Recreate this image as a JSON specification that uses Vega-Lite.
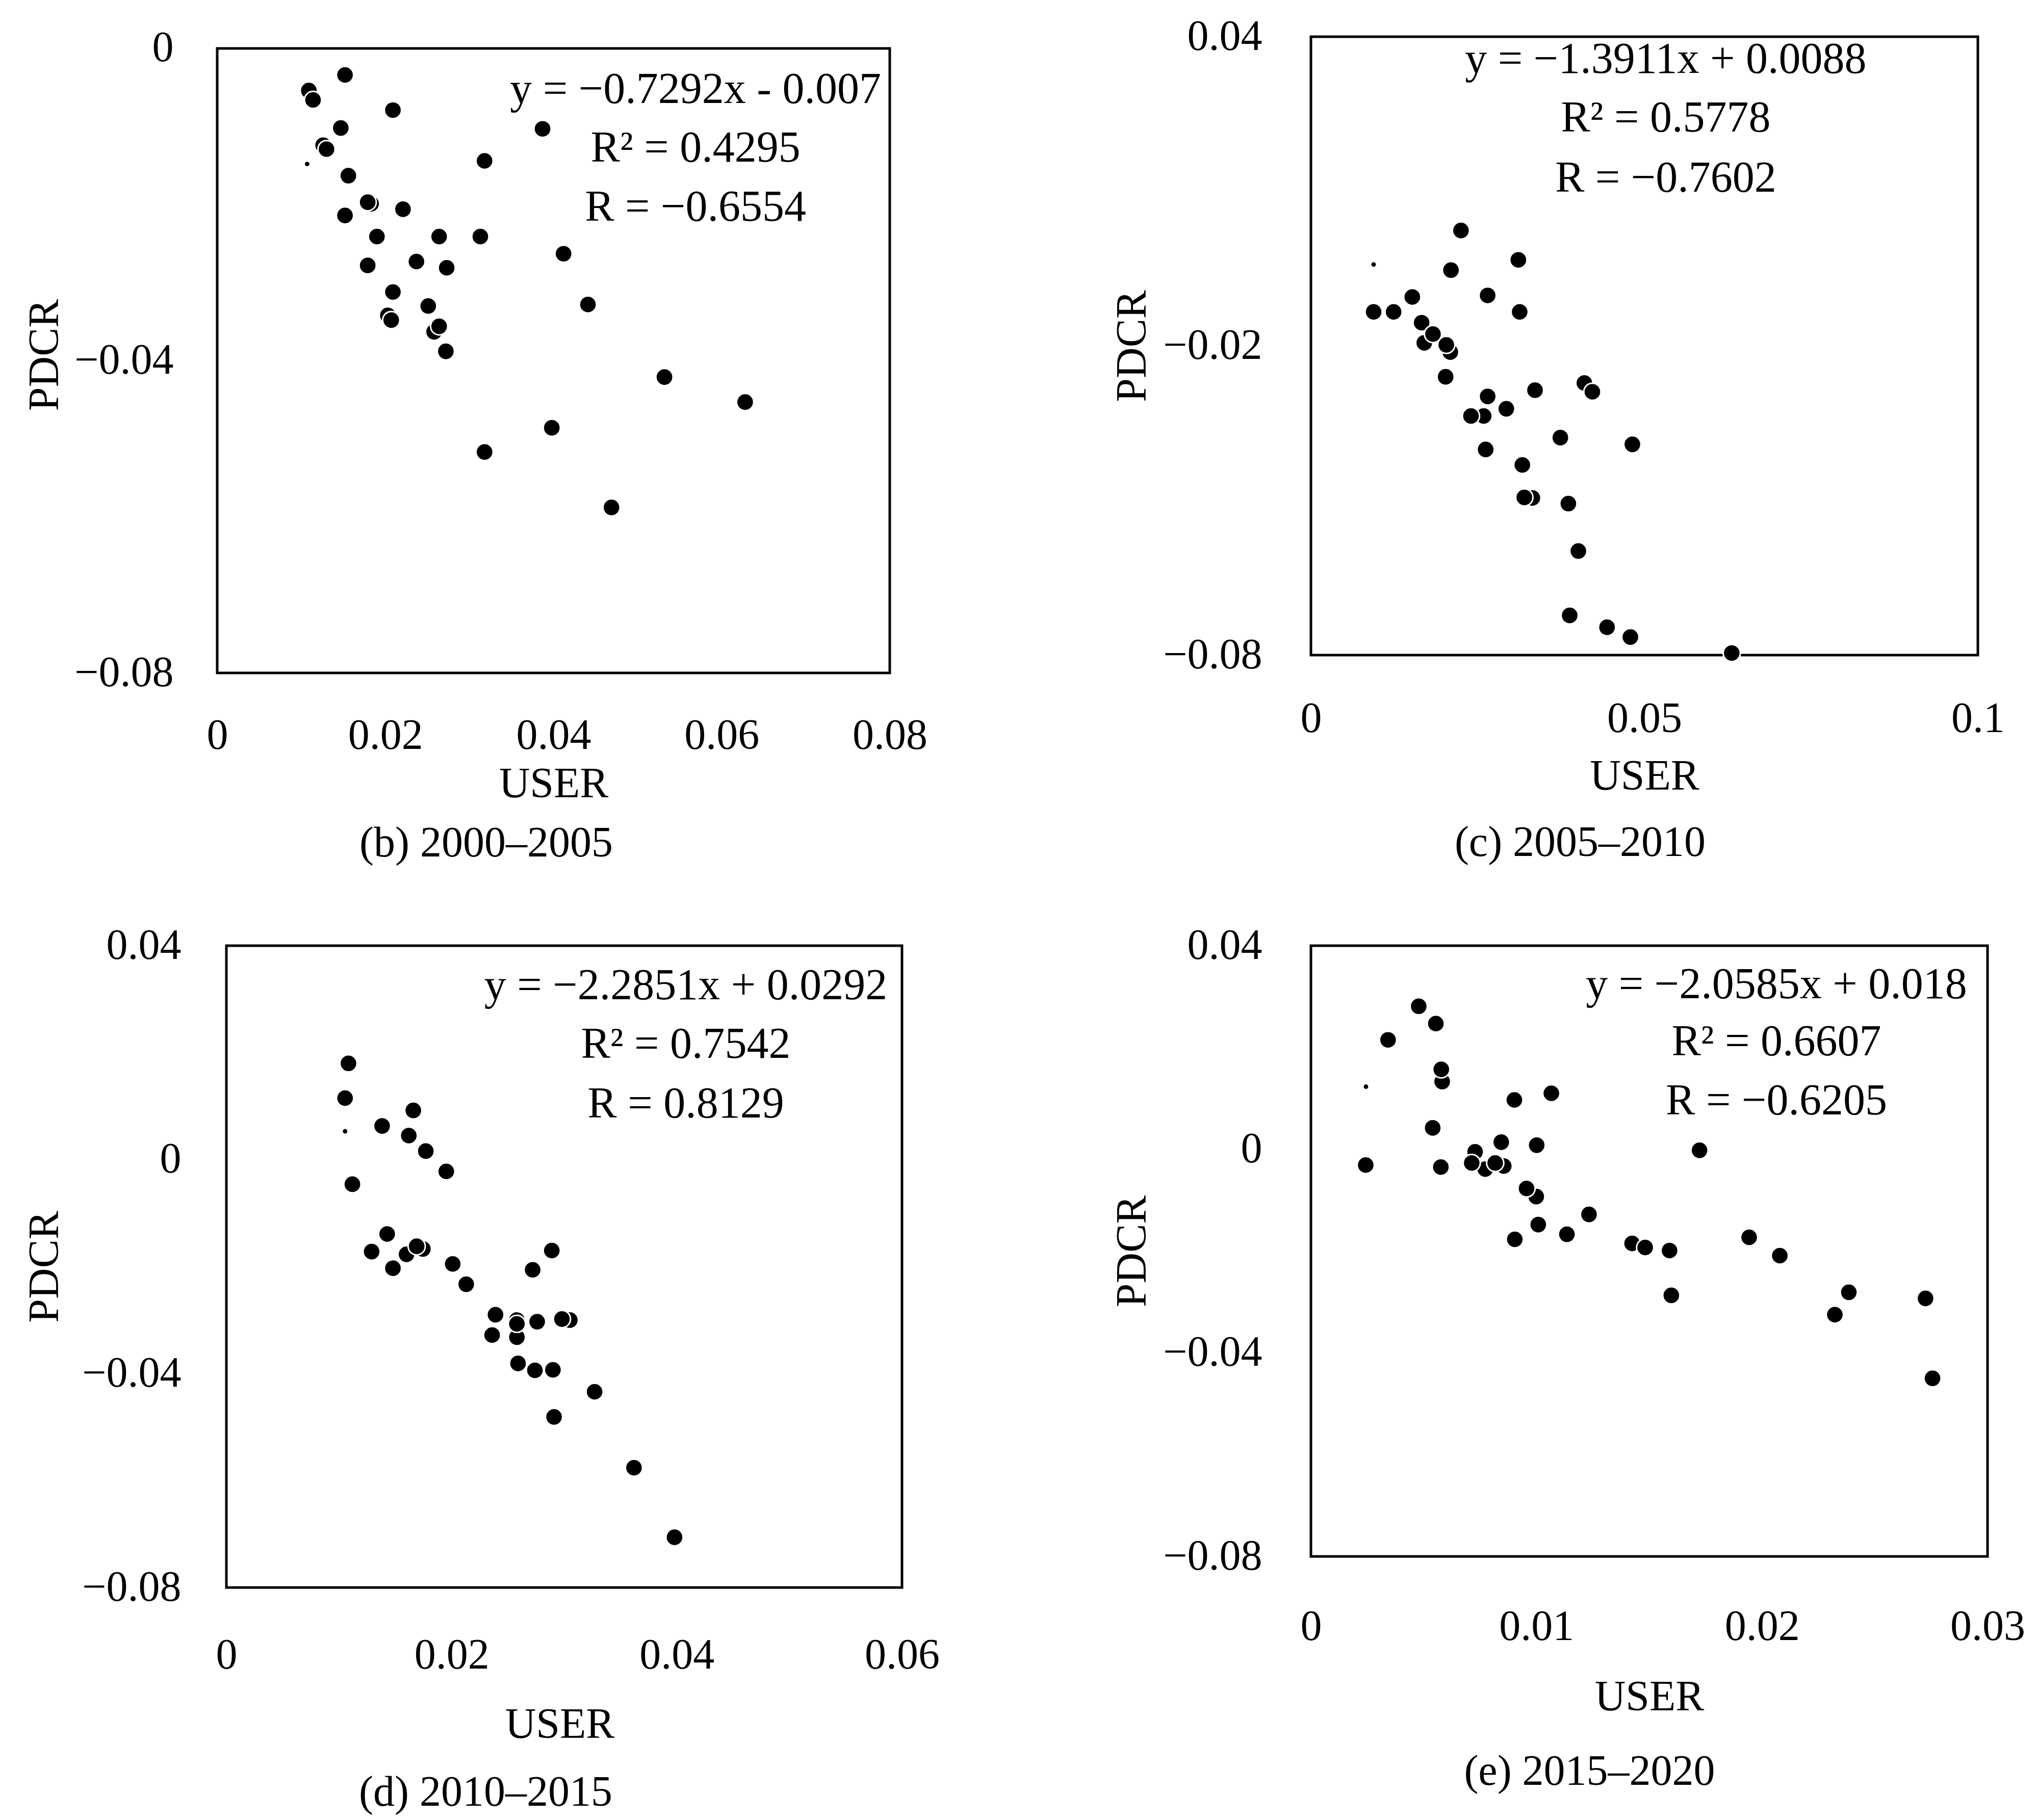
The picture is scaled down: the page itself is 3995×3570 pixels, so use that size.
{
  "$schema": "https://vega.github.io/schema/vega-lite/v6.json",
  "background": "white",
  "padding": {"left": 46, "top": 27, "right": 10, "bottom": 10},
  "config": {
    "font": "Liberation Serif",
    "view": {"stroke": "#000000", "strokeWidth": 5},
    "axis": {"grid": false, "domain": false, "ticks": false, "tickSize": 0, "maxExtent": 1000, "labelFont": "Liberation Serif", "labelFontSize": 84, "labelColor": "#000000", "labelLimit": 1000, "titleFont": "Liberation Serif", "titleFontSize": 84, "titleFontWeight": "normal", "titleColor": "#000000", "labelFlush": false, "labelOverlap": false, "format": "~g"},
    "title": {"font": "Liberation Serif", "fontSize": 84, "fontWeight": "normal", "color": "#000000"}
  },
  "datasets": {
    "bFrame": [{"USER": 0, "USER2": 0.08, "PDCR": -0.08, "PDCR2": 0}],
    "b": [
      {"USER": 0.0109, "PDCR": -0.0054}, {"USER": 0.0126, "PDCR": -0.0124}, {"USER": 0.0183, "PDCR": -0.0199}, {"USER": 0.0203, "PDCR": -0.0342}, {"USER": 0.0258, "PDCR": -0.0363},
      {"USER": 0.0152, "PDCR": -0.0034}, {"USER": 0.0114, "PDCR": -0.0066}, {"USER": 0.0209, "PDCR": -0.0079}, {"USER": 0.0387, "PDCR": -0.0103}, {"USER": 0.0147, "PDCR": -0.0102},
      {"USER": 0.0130, "PDCR": -0.0129}, {"USER": 0.0318, "PDCR": -0.0144}, {"USER": 0.0156, "PDCR": -0.0163}, {"USER": 0.0179, "PDCR": -0.0197}, {"USER": 0.0221, "PDCR": -0.0206},
      {"USER": 0.0152, "PDCR": -0.0214}, {"USER": 0.0190, "PDCR": -0.0241}, {"USER": 0.0264, "PDCR": -0.0241}, {"USER": 0.0313, "PDCR": -0.0241}, {"USER": 0.0412, "PDCR": -0.0263},
      {"USER": 0.0179, "PDCR": -0.0278}, {"USER": 0.0237, "PDCR": -0.0273}, {"USER": 0.0273, "PDCR": -0.0281}, {"USER": 0.0209, "PDCR": -0.0312}, {"USER": 0.0251, "PDCR": -0.0330},
      {"USER": 0.0207, "PDCR": -0.0348}, {"USER": 0.0264, "PDCR": -0.0356}, {"USER": 0.0272, "PDCR": -0.0388}, {"USER": 0.0441, "PDCR": -0.0328}, {"USER": 0.0532, "PDCR": -0.0421},
      {"USER": 0.0628, "PDCR": -0.0453}, {"USER": 0.0398, "PDCR": -0.0486}, {"USER": 0.0318, "PDCR": -0.0517}, {"USER": 0.0469, "PDCR": -0.0588}
    ],
    "bSmall": [{"USER": 0.0107, "PDCR": -0.0148}],
    "bEq": [
      {"USER": 0.0569, "PDCR": -0.0053, "label": "y = −0.7292x - 0.007"},
      {"USER": 0.0569, "PDCR": -0.0128, "label": "R² = 0.4295"},
      {"USER": 0.0569, "PDCR": -0.0204, "label": "R = −0.6554"}
    ],
    "c": [
      {"USER": 0.0166, "PDCR": -0.0155}, {"USER": 0.0170, "PDCR": -0.0194}, {"USER": 0.0183, "PDCR": -0.0177}, {"USER": 0.0209, "PDCR": -0.0212}, {"USER": 0.0410, "PDCR": -0.0272},
      {"USER": 0.0259, "PDCR": -0.0336}, {"USER": 0.0332, "PDCR": -0.0495},
      {"USER": 0.0225, "PDCR": 0.0024}, {"USER": 0.0311, "PDCR": -0.0033}, {"USER": 0.0210, "PDCR": -0.0053}, {"USER": 0.0152, "PDCR": -0.0105}, {"USER": 0.0265, "PDCR": -0.0102},
      {"USER": 0.0094, "PDCR": -0.0134}, {"USER": 0.0124, "PDCR": -0.0134}, {"USER": 0.0313, "PDCR": -0.0134}, {"USER": 0.0203, "PDCR": -0.0198}, {"USER": 0.0202, "PDCR": -0.0260},
      {"USER": 0.0336, "PDCR": -0.0286}, {"USER": 0.0422, "PDCR": -0.0289}, {"USER": 0.0265, "PDCR": -0.0298}, {"USER": 0.0293, "PDCR": -0.0322}, {"USER": 0.0240, "PDCR": -0.0336},
      {"USER": 0.0374, "PDCR": -0.0378}, {"USER": 0.0482, "PDCR": -0.0391}, {"USER": 0.0262, "PDCR": -0.0401}, {"USER": 0.0317, "PDCR": -0.0431}, {"USER": 0.0320, "PDCR": -0.0494},
      {"USER": 0.0386, "PDCR": -0.0506}, {"USER": 0.0401, "PDCR": -0.0598}, {"USER": 0.0388, "PDCR": -0.0723}, {"USER": 0.0444, "PDCR": -0.0746}, {"USER": 0.0479, "PDCR": -0.0765},
      {"USER": 0.0631, "PDCR": -0.0796}
    ],
    "cSmall": [{"USER": 0.0094, "PDCR": -0.0042}],
    "cEq": [
      {"USER": 0.0532, "PDCR": 0.0355, "label": "y = −1.3911x + 0.0088"},
      {"USER": 0.0532, "PDCR": 0.0242, "label": "R² = 0.5778"},
      {"USER": 0.0532, "PDCR": 0.0125, "label": "R = −0.7602"}
    ],
    "dFrame": [{"USER": 0, "USER2": 0.06, "PDCR": -0.08, "PDCR2": 0.04}],
    "d": [
      {"USER": 0.01745, "PDCR": -0.0167}, {"USER": 0.0160, "PDCR": -0.0177}, {"USER": 0.0258, "PDCR": -0.0300}, {"USER": 0.0258, "PDCR": -0.0332}, {"USER": 0.0305, "PDCR": -0.0300},
      {"USER": 0.0290, "PDCR": -0.0393}, {"USER": 0.0259, "PDCR": -0.0381},
      {"USER": 0.01084, "PDCR": 0.0180}, {"USER": 0.01054, "PDCR": 0.0115}, {"USER": 0.0166, "PDCR": 0.0092}, {"USER": 0.01383, "PDCR": 0.0063}, {"USER": 0.0162, "PDCR": 0.0045},
      {"USER": 0.01771, "PDCR": 0.0016}, {"USER": 0.01953, "PDCR": -0.0022}, {"USER": 0.01119, "PDCR": -0.0046}, {"USER": 0.01428, "PDCR": -0.0139}, {"USER": 0.0129, "PDCR": -0.0172},
      {"USER": 0.0169, "PDCR": -0.0162}, {"USER": 0.01479, "PDCR": -0.0203}, {"USER": 0.0201, "PDCR": -0.0195}, {"USER": 0.0213, "PDCR": -0.0233}, {"USER": 0.0289, "PDCR": -0.0170},
      {"USER": 0.0272, "PDCR": -0.0206}, {"USER": 0.0239, "PDCR": -0.0290}, {"USER": 0.0258, "PDCR": -0.0307}, {"USER": 0.0276, "PDCR": -0.0303}, {"USER": 0.0298, "PDCR": -0.0298},
      {"USER": 0.0236, "PDCR": -0.0328}, {"USER": 0.0274, "PDCR": -0.0394}, {"USER": 0.0327, "PDCR": -0.0434}, {"USER": 0.0291, "PDCR": -0.0481}, {"USER": 0.0362, "PDCR": -0.0576},
      {"USER": 0.0398, "PDCR": -0.0706}
    ],
    "dSmall": [{"USER": 0.01054, "PDCR": 0.0053}],
    "dEq": [
      {"USER": 0.0408, "PDCR": 0.0325, "label": "y = −2.2851x + 0.0292"},
      {"USER": 0.0408, "PDCR": 0.0215, "label": "R² = 0.7542"},
      {"USER": 0.0408, "PDCR": 0.0104, "label": "R = 0.8129"}
    ],
    "e": [
      {"USER": 0.00582, "PDCR": 0.0133}, {"USER": 0.00728, "PDCR": -0.0005}, {"USER": 0.00773, "PDCR": -0.0039}, {"USER": 0.00855, "PDCR": -0.0033}, {"USER": 0.00999, "PDCR": -0.0093},
      {"USER": 0.01424, "PDCR": -0.0185},
      {"USER": 0.00478, "PDCR": 0.0281}, {"USER": 0.00554, "PDCR": 0.0247}, {"USER": 0.00342, "PDCR": 0.0215}, {"USER": 0.00578, "PDCR": 0.0157}, {"USER": 0.00902, "PDCR": 0.0097},
      {"USER": 0.01066, "PDCR": 0.0110}, {"USER": 0.0054, "PDCR": 0.0042}, {"USER": 0.00243, "PDCR": -0.0031}, {"USER": 0.00576, "PDCR": -0.0035}, {"USER": 0.00844, "PDCR": 0.0014},
      {"USER": 0.01001, "PDCR": 0.0008}, {"USER": 0.00713, "PDCR": -0.0027}, {"USER": 0.00817, "PDCR": -0.0027}, {"USER": 0.00956, "PDCR": -0.0077}, {"USER": 0.01233, "PDCR": -0.0128},
      {"USER": 0.01008, "PDCR": -0.0148}, {"USER": 0.00904, "PDCR": -0.0177}, {"USER": 0.01135, "PDCR": -0.0167}, {"USER": 0.01482, "PDCR": -0.0193}, {"USER": 0.01723, "PDCR": -0.0002},
      {"USER": 0.0159, "PDCR": -0.0199}, {"USER": 0.01943, "PDCR": -0.0173}, {"USER": 0.02079, "PDCR": -0.0209}, {"USER": 0.01598, "PDCR": -0.0287}, {"USER": 0.02385, "PDCR": -0.0281},
      {"USER": 0.02323, "PDCR": -0.0325}, {"USER": 0.02725, "PDCR": -0.0293}, {"USER": 0.02756, "PDCR": -0.0450}
    ],
    "eSmall": [{"USER": 0.00244, "PDCR": 0.0123}],
    "eEq": [
      {"USER": 0.02064, "PDCR": 0.0323, "label": "y = −2.0585x + 0.018"},
      {"USER": 0.02064, "PDCR": 0.0211, "label": "R² = 0.6607"},
      {"USER": 0.02064, "PDCR": 0.0094, "label": "R = −0.6205"}
    ]
  },
  "align": "none",
  "spacing": 334,
  "hconcat": [
    {
      "align": "none",
      "spacing": 116,
      "vconcat": [
        {
          "width": 1319, "height": 1248,
          "view": {"stroke": null},
          "title": {"text": "(b) 2000–2005", "orient": "bottom", "anchor": "middle", "frame": "group", "offset": 34, "dx": -132},
          "resolve": {"axis": {"x": "independent", "y": "independent"}},
          "layer": [
            {"data": {"name": "bFrame"}, "mark": {"type": "rect", "filled": false, "color": "#000000", "strokeWidth": 5},
             "encoding": {"x": {"field": "USER", "type": "quantitative", "scale": {"domain": [0, 0.08], "nice": false, "zero": false}, "axis": null},
                          "x2": {"field": "USER2"},
                          "y": {"field": "PDCR", "type": "quantitative", "scale": {"domain": [-0.08, 0.0015], "nice": false, "zero": false}, "axis": null},
                          "y2": {"field": "PDCR2"}}},
            {"data": {"name": "bSmall"}, "mark": {"type": "circle", "size": 80, "color": "#000000", "opacity": 1},
             "encoding": {"x": {"field": "USER", "type": "quantitative", "scale": {"domain": [0, 0.08], "nice": false, "zero": false}, "axis": null},
                          "y": {"field": "PDCR", "type": "quantitative", "scale": {"domain": [-0.08, 0.0015], "nice": false, "zero": false}, "axis": null}}},
            {"data": {"name": "b"}, "mark": {"type": "circle", "size": 1130, "color": "#000000", "opacity": 1, "stroke": "#ffffff", "strokeWidth": 3},
             "encoding": {"x": {"field": "USER", "type": "quantitative", "scale": {"domain": [0, 0.08], "nice": false, "zero": false}, "axis": {"values": [0, 0.02, 0.04, 0.06, 0.08], "labelPadding": 82, "titlePadding": 12, "title": "USER"}},
                          "y": {"field": "PDCR", "type": "quantitative", "scale": {"domain": [-0.08, 0.0015], "nice": false, "zero": false}, "axis": {"values": [0, -0.04, -0.08], "labelPadding": 86, "titlePadding": 14, "title": "PDCR"}}}},
            {"data": {"name": "bEq"}, "mark": {"type": "text", "fontSize": 86, "font": "Liberation Serif", "align": "center", "baseline": "middle", "color": "#000000"},
             "encoding": {"x": {"field": "USER", "type": "quantitative", "scale": {"domain": [0, 0.08], "nice": false, "zero": false}, "axis": null},
                          "y": {"field": "PDCR", "type": "quantitative", "scale": {"domain": [-0.08, 0.0015], "nice": false, "zero": false}, "axis": null},
                          "text": {"field": "label", "type": "nominal"}}}
          ]
        },
        {
          "width": 1343, "height": 1259,
          "view": {"stroke": null},
          "title": {"text": "(d) 2010–2015", "orient": "bottom", "anchor": "middle", "frame": "group", "offset": 51, "dx": -145},
          "resolve": {"axis": {"x": "independent", "y": "independent"}},
          "layer": [
            {"data": {"name": "dFrame"}, "mark": {"type": "rect", "filled": false, "color": "#000000", "strokeWidth": 5},
             "encoding": {"x": {"field": "USER", "type": "quantitative", "scale": {"domain": [-0.000815, 0.06], "nice": false, "zero": false}, "axis": null},
                          "x2": {"field": "USER2"},
                          "y": {"field": "PDCR", "type": "quantitative", "scale": {"domain": [-0.08, 0.04], "nice": false, "zero": false}, "axis": null},
                          "y2": {"field": "PDCR2"}}},
            {"data": {"name": "dSmall"}, "mark": {"type": "circle", "size": 80, "color": "#000000", "opacity": 1},
             "encoding": {"x": {"field": "USER", "type": "quantitative", "scale": {"domain": [-0.000815, 0.06], "nice": false, "zero": false}, "axis": null},
                          "y": {"field": "PDCR", "type": "quantitative", "scale": {"domain": [-0.08, 0.04], "nice": false, "zero": false}, "axis": null}}},
            {"data": {"name": "d"}, "mark": {"type": "circle", "size": 1130, "color": "#000000", "opacity": 1, "stroke": "#ffffff", "strokeWidth": 3},
             "encoding": {"x": {"field": "USER", "type": "quantitative", "scale": {"domain": [-0.000815, 0.06], "nice": false, "zero": false}, "axis": {"values": [0, 0.02, 0.04, 0.06], "labelPadding": 92, "titlePadding": 53, "title": "USER"}},
                          "y": {"field": "PDCR", "type": "quantitative", "scale": {"domain": [-0.08, 0.04], "nice": false, "zero": false}, "axis": {"values": [0.04, 0, -0.04, -0.08], "labelPadding": 71, "titlePadding": 29, "title": "PDCR"}}}},
            {"data": {"name": "dEq"}, "mark": {"type": "text", "fontSize": 86, "font": "Liberation Serif", "align": "center", "baseline": "middle", "color": "#000000"},
             "encoding": {"x": {"field": "USER", "type": "quantitative", "scale": {"domain": [-0.000815, 0.06], "nice": false, "zero": false}, "axis": null},
                          "y": {"field": "PDCR", "type": "quantitative", "scale": {"domain": [-0.08, 0.04], "nice": false, "zero": false}, "axis": null},
                          "text": {"field": "label", "type": "nominal"}}}
          ]
        }
      ]
    },
    {
      "align": "none",
      "spacing": 111,
      "vconcat": [
        {
          "width": 1308, "height": 1213,
          "title": {"text": "(c) 2005–2010", "orient": "bottom", "anchor": "middle", "frame": "group", "offset": 48, "dx": -126},
          "resolve": {"axis": {"x": "independent", "y": "independent"}},
          "layer": [
            {"data": {"name": "cSmall"}, "mark": {"type": "circle", "size": 80, "color": "#000000", "opacity": 1},
             "encoding": {"x": {"field": "USER", "type": "quantitative", "scale": {"domain": [0, 0.1], "nice": false, "zero": false}, "axis": null},
                          "y": {"field": "PDCR", "type": "quantitative", "scale": {"domain": [-0.08, 0.04], "nice": false, "zero": false}, "axis": null}}},
            {"data": {"name": "c"}, "mark": {"type": "circle", "size": 1130, "color": "#000000", "opacity": 1, "stroke": "#ffffff", "strokeWidth": 3},
             "encoding": {"x": {"field": "USER", "type": "quantitative", "scale": {"domain": [0, 0.1], "nice": false, "zero": false}, "axis": {"values": [0, 0.05, 0.1], "labelPadding": 84, "titlePadding": 30, "title": "USER"}},
                          "y": {"field": "PDCR", "type": "quantitative", "scale": {"domain": [-0.08, 0.04], "nice": false, "zero": false}, "axis": {"values": [0.04, -0.02, -0.08], "labelPadding": 96, "titlePadding": 16, "title": "PDCR"}}}},
            {"data": {"name": "cEq"}, "mark": {"type": "text", "fontSize": 86, "font": "Liberation Serif", "align": "center", "baseline": "middle", "color": "#000000"},
             "encoding": {"x": {"field": "USER", "type": "quantitative", "scale": {"domain": [0, 0.1], "nice": false, "zero": false}, "axis": null},
                          "y": {"field": "PDCR", "type": "quantitative", "scale": {"domain": [-0.08, 0.04], "nice": false, "zero": false}, "axis": null},
                          "text": {"field": "label", "type": "nominal"}}}
          ]
        },
        {
          "width": 1327, "height": 1198,
          "title": {"text": "(e) 2015–2020", "orient": "bottom", "anchor": "middle", "frame": "group", "offset": 64, "dx": -117},
          "resolve": {"axis": {"x": "independent", "y": "independent"}},
          "layer": [
            {"data": {"name": "eSmall"}, "mark": {"type": "circle", "size": 80, "color": "#000000", "opacity": 1},
             "encoding": {"x": {"field": "USER", "type": "quantitative", "scale": {"domain": [0, 0.03], "nice": false, "zero": false}, "axis": null},
                          "y": {"field": "PDCR", "type": "quantitative", "scale": {"domain": [-0.08, 0.04], "nice": false, "zero": false}, "axis": null}}},
            {"data": {"name": "e"}, "mark": {"type": "circle", "size": 1130, "color": "#000000", "opacity": 1, "stroke": "#ffffff", "strokeWidth": 3},
             "encoding": {"x": {"field": "USER", "type": "quantitative", "scale": {"domain": [0, 0.03], "nice": false, "zero": false}, "axis": {"values": [0, 0.01, 0.02, 0.03], "labelPadding": 97, "titlePadding": 55, "title": "USER"}},
                          "y": {"field": "PDCR", "type": "quantitative", "scale": {"domain": [-0.08, 0.04], "nice": false, "zero": false}, "axis": {"values": [0.04, 0, -0.04, -0.08], "labelPadding": 96, "titlePadding": 16, "title": "PDCR"}}}},
            {"data": {"name": "eEq"}, "mark": {"type": "text", "fontSize": 86, "font": "Liberation Serif", "align": "center", "baseline": "middle", "color": "#000000"},
             "encoding": {"x": {"field": "USER", "type": "quantitative", "scale": {"domain": [0, 0.03], "nice": false, "zero": false}, "axis": null},
                          "y": {"field": "PDCR", "type": "quantitative", "scale": {"domain": [-0.08, 0.04], "nice": false, "zero": false}, "axis": null},
                          "text": {"field": "label", "type": "nominal"}}}
          ]
        }
      ]
    }
  ]
}
